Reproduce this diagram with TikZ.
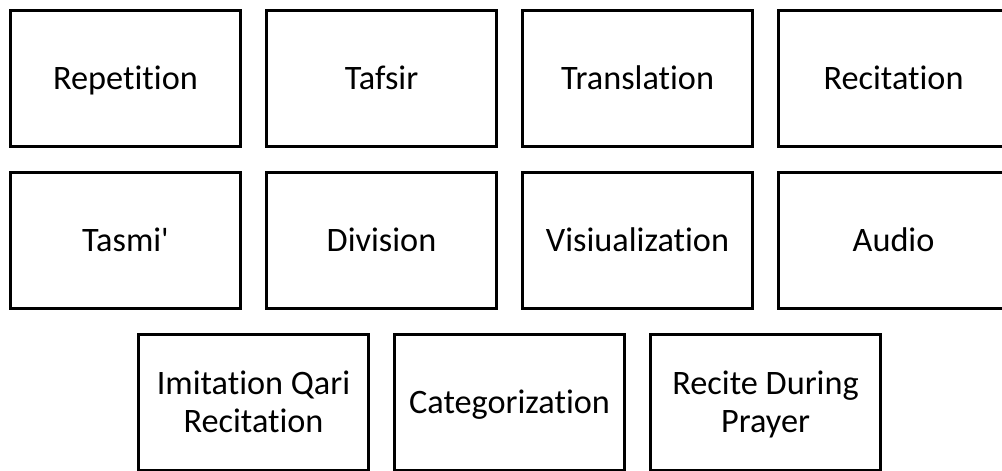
\documentclass[tikz,border=0pt]{standalone}
\usepackage{fontspec}
\setmainfont{Carlito}[Ligatures={NoCommon}]
\usetikzlibrary{positioning,calc}

\tikzset{
    block/.style={draw, line width=2pt, minimum width=4.6cm, minimum height=2.72cm,
        align=center, font=\fontsize{19.5}{21.7}\selectfont,
        text height=12.5pt, text depth=0pt},
    twoline/.style={text height=34.2pt},
}

\begin{document}
\begin{tikzpicture}[node distance=0.45cm and 0.45cm]
    \useasboundingbox (0,0) rectangle (20.04,-9.42);
    \clip (0,0) rectangle (20.04,-9.42);

    % first row
    \node [block] (rep) at (2.51,-1.57) {Repetition};
    \node [block, right=of rep] (taf) {Tafsir};
    \node [block, right=of taf] (tra) {Translation};
    \node [block, right=of tra] (rec) {Recitation};

    % second row
    \node [block, below=of rep] (tas) {Tasmi\textquotesingle};
    \node [block, right=of tas] (div) {Division};
    \node [block, right=of div] (vis) {Visiualization};
    \node [block, right=of vis] (aud) {Audio};

    % third row
    \node [block, twoline, below=of $(tas.south)!0.5!(div.south)$] (imi) {Imitation Qari\\Recitation};
    \node [block, right=of imi] (cat) {Categorization};
    \node [block, twoline, right=of cat] (pra) {Recite During\\Prayer};

\end{tikzpicture}
\end{document}
